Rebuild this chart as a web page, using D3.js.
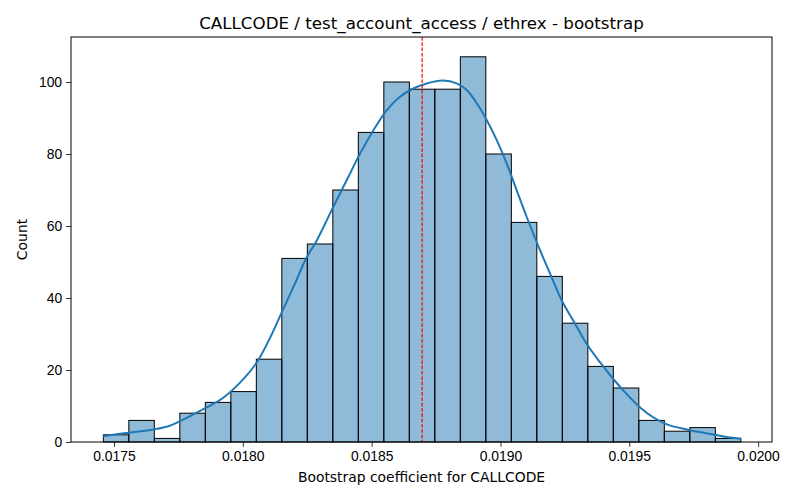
<!DOCTYPE html>
<html>
<head>
<meta charset="utf-8">
<script src="https://cdn.jsdelivr.net/npm/d3@7"></script>
<style>
  body { margin: 0; background: #fff; }
  svg { font-family: "DejaVu Sans", sans-serif; }
  .tick text { font-size: 13.9px; fill: #000; }
  .tick line { stroke: #000; stroke-width: 0.8px; }
  .domain { display: none; }
</style>
</head>
<body>
<div id="chart"></div>
<script>
// Histogram of bootstrap coefficients (25 equal bins between binMin and binMax)
const binMin = 0.0174585
const binMax = 0.019933
const counts = [2, 6, 1, 8, 11, 14, 23, 51, 55, 70, 86, 100, 98, 98, 107, 80, 61, 46, 33, 21, 15, 6, 3, 4, 1]

// KDE curve
const kdeX = [0.017458, 0.017556, 0.017653, 0.017717, 0.017795, 0.01786, 0.017924, 0.017989,
  0.018054, 0.018106, 0.018151, 0.018196, 0.018248, 0.018287, 0.018351, 0.018403, 0.018455,
  0.018507, 0.018559, 0.01861, 0.018662, 0.018714, 0.018778, 0.01883, 0.018869, 0.018908,
  0.018947, 0.018986, 0.019024, 0.019063, 0.019102, 0.019154, 0.019193, 0.019238, 0.01929,
  0.019335, 0.019387, 0.019438, 0.01949, 0.019542, 0.019594, 0.019646, 0.019723, 0.019801,
  0.019878, 0.019933]
const kdeY = [1.6, 2.6, 3.5, 4.5, 7.2, 9.6, 12.3, 16.5, 22.1, 29, 36, 43, 51.3, 56, 65.3, 72.7, 80.1,
  86.6, 92.2, 95.9, 98.2, 99.6, 100.4, 99.6, 97.8, 94.1, 89.4, 83.8, 77.4, 69.9, 62.5, 53.2, 46.7,
  39.3, 32.8, 27.2, 22.1, 17.5, 13.3, 9.6, 6.8, 4.9, 3.5, 2.4, 1.4, 0.9]

const meanValue = 0.018696
const xTicks = [0.0175, 0.0180, 0.0185, 0.0190, 0.0195, 0.0200]
const yTicks = [0, 20, 40, 60, 80, 100]

const W = 800, H = 500
const margin = { top: 37, right: 28, bottom: 58, left: 71 }
const width = W - margin.left - margin.right
const height = H - margin.top - margin.bottom

const svg = d3.select("#chart").append("svg")
  .attr("width", W)
  .attr("height", H)

const g = svg.append("g")
  .attr("transform", `translate(${margin.left},${margin.top})`)

const x = d3.scaleLinear()
  .domain([0.017333, 0.020054])
  .range([0, width])

const y = d3.scaleLinear()
  .domain([0, 112.5])
  .range([height, 0])

const binW = (binMax - binMin) / counts.length
const bins = counts.map((c, i) => ({ x0: binMin + i * binW, x1: binMin + (i + 1) * binW, count: c }))

// Bars
g.selectAll(".bar")
  .data(bins)
  .enter()
  .append("rect")
  .attr("class", "bar")
  .attr("x", d => x(d.x0))
  .attr("y", d => y(d.count))
  .attr("width", d => x(d.x1) - x(d.x0))
  .attr("height", d => y(0) - y(d.count))
  .attr("fill", "#1f77b4")
  .attr("fill-opacity", 0.5)
  .attr("stroke", "#000")
  .attr("stroke-width", 1)

// KDE line
const line = d3.line()
  .x((d, i) => x(kdeX[i]))
  .y(d => y(d))
  .curve(d3.curveCatmullRom)

g.append("path")
  .datum(kdeY)
  .attr("d", line)
  .attr("fill", "none")
  .attr("stroke", "#1f77b4")
  .attr("stroke-width", 2)

// Mean line
g.append("line")
  .attr("x1", x(meanValue))
  .attr("x2", x(meanValue))
  .attr("y1", 0)
  .attr("y2", height)
  .attr("stroke", "red")
  .attr("stroke-width", 1.2)
  .attr("stroke-dasharray", "3.7,1.6")

// Axes
g.append("g")
  .attr("transform", `translate(0,${height})`)
  .call(d3.axisBottom(x).tickValues(xTicks).tickFormat(d3.format(".4f")).tickSizeOuter(0).tickSize(4.9).tickPadding(4))

g.append("g")
  .call(d3.axisLeft(y).tickValues(yTicks).tickSizeOuter(0).tickSize(4.9).tickPadding(4))

// Frame
g.append("rect")
  .attr("width", width)
  .attr("height", height)
  .attr("fill", "none")
  .attr("stroke", "#000")
  .attr("stroke-width", 1)

// Labels
svg.append("text")
  .attr("x", margin.left + width / 2)
  .attr("y", 29)
  .attr("text-anchor", "middle")
  .attr("font-size", "16.7px")
  .text("CALLCODE / test_account_access / ethrex - bootstrap")

svg.append("text")
  .attr("x", margin.left + width / 2)
  .attr("y", 482)
  .attr("text-anchor", "middle")
  .attr("font-size", "13.9px")
  .text("Bootstrap coefficient for CALLCODE")

svg.append("text")
  .attr("transform", "rotate(-90)")
  .attr("x", -(margin.top + height / 2))
  .attr("y", 27)
  .attr("text-anchor", "middle")
  .attr("font-size", "13.9px")
  .text("Count")
</script>
</body>
</html>
